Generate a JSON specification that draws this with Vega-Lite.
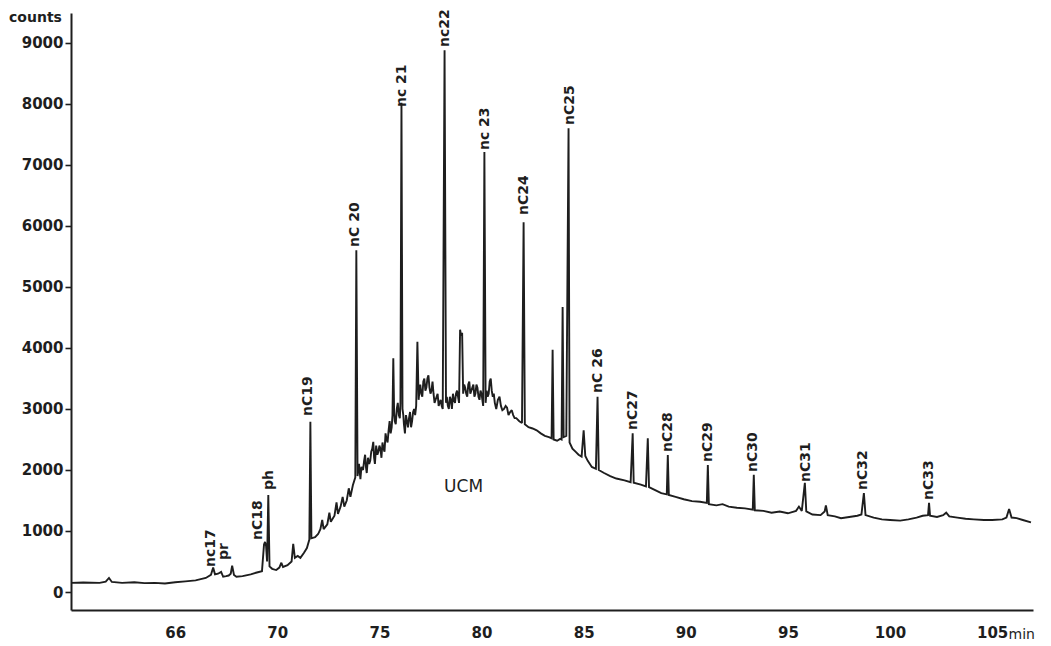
{
  "$schema": "https://vega.github.io/schema/vega-lite/v6.json",
  "width": 962,
  "height": 597,
  "autosize": {"type": "none"},
  "padding": {"left": 71, "top": 13, "right": 18, "bottom": 36},
  "background": "#ffffff",
  "config": {
    "view": {"stroke": null},
    "font": "DejaVu Sans"
  },
  "datasets": {
    "trace": [
      {"t": 59.9, "counts": 150}, {"t": 60.5, "counts": 155}, {"t": 61.3, "counts": 150}, {"t": 61.6, "counts": 170},
      {"t": 61.76, "counts": 230}, {"t": 61.9, "counts": 165}, {"t": 62.4, "counts": 150}, {"t": 63.0, "counts": 160},
      {"t": 63.5, "counts": 145}, {"t": 64.0, "counts": 150}, {"t": 64.5, "counts": 140}, {"t": 65.0, "counts": 160},
      {"t": 65.5, "counts": 175}, {"t": 66.0, "counts": 190}, {"t": 66.5, "counts": 230}, {"t": 66.75, "counts": 280},
      {"t": 66.86, "counts": 400}, {"t": 66.95, "counts": 290}, {"t": 67.1, "counts": 300}, {"t": 67.25, "counts": 330},
      {"t": 67.35, "counts": 250}, {"t": 67.5, "counts": 260}, {"t": 67.62, "counts": 270}, {"t": 67.72, "counts": 300},
      {"t": 67.79, "counts": 430}, {"t": 67.88, "counts": 280}, {"t": 68.0, "counts": 250}, {"t": 68.3, "counts": 260},
      {"t": 68.7, "counts": 290}, {"t": 69.0, "counts": 320}, {"t": 69.25, "counts": 340}, {"t": 69.35, "counts": 780},
      {"t": 69.4, "counts": 820}, {"t": 69.45, "counts": 760}, {"t": 69.5, "counts": 500}, {"t": 69.56, "counts": 1590},
      {"t": 69.62, "counts": 420}, {"t": 69.75, "counts": 380}, {"t": 69.95, "counts": 360}, {"t": 70.1, "counts": 400},
      {"t": 70.2, "counts": 480}, {"t": 70.28, "counts": 410}, {"t": 70.5, "counts": 440}, {"t": 70.7, "counts": 500},
      {"t": 70.78, "counts": 790}, {"t": 70.86, "counts": 560}, {"t": 71.0, "counts": 590}, {"t": 71.13, "counts": 560},
      {"t": 71.3, "counts": 640}, {"t": 71.45, "counts": 720}, {"t": 71.57, "counts": 860}, {"t": 71.62, "counts": 2790},
      {"t": 71.67, "counts": 880}, {"t": 71.85, "counts": 900}, {"t": 72.0, "counts": 950}, {"t": 72.11, "counts": 1030},
      {"t": 72.2, "counts": 1180}, {"t": 72.27, "counts": 1030}, {"t": 72.45, "counts": 1110}, {"t": 72.55, "counts": 1300},
      {"t": 72.62, "counts": 1150}, {"t": 72.8, "counts": 1250}, {"t": 72.9, "counts": 1470}, {"t": 72.97, "counts": 1280},
      {"t": 73.1, "counts": 1400}, {"t": 73.2, "counts": 1560}, {"t": 73.28, "counts": 1400}, {"t": 73.4, "counts": 1500},
      {"t": 73.5, "counts": 1700}, {"t": 73.58, "counts": 1560}, {"t": 73.7, "counts": 1750}, {"t": 73.82, "counts": 1880},
      {"t": 73.87, "counts": 5600}, {"t": 73.93, "counts": 1900}, {"t": 74.0, "counts": 2100}, {"t": 74.07, "counts": 1850},
      {"t": 74.12, "counts": 2050}, {"t": 74.2, "counts": 2000}, {"t": 74.25, "counts": 2150}, {"t": 74.3, "counts": 2250},
      {"t": 74.34, "counts": 2050}, {"t": 74.38, "counts": 1950}, {"t": 74.44, "counts": 2200}, {"t": 74.5, "counts": 2100},
      {"t": 74.55, "counts": 2150}, {"t": 74.6, "counts": 2300}, {"t": 74.65, "counts": 2350}, {"t": 74.7, "counts": 2460},
      {"t": 74.74, "counts": 2200}, {"t": 74.78, "counts": 2100}, {"t": 74.84, "counts": 2400}, {"t": 74.9, "counts": 2250},
      {"t": 74.95, "counts": 2300}, {"t": 75.0, "counts": 2400}, {"t": 75.05, "counts": 2350}, {"t": 75.1, "counts": 2200},
      {"t": 75.15, "counts": 2450}, {"t": 75.2, "counts": 2350}, {"t": 75.25, "counts": 2300}, {"t": 75.3, "counts": 2600},
      {"t": 75.35, "counts": 2500}, {"t": 75.4, "counts": 2450}, {"t": 75.45, "counts": 2650}, {"t": 75.5, "counts": 2800},
      {"t": 75.55, "counts": 2600}, {"t": 75.6, "counts": 2700}, {"t": 75.64, "counts": 2900}, {"t": 75.68, "counts": 3830},
      {"t": 75.72, "counts": 2950}, {"t": 75.75, "counts": 2800}, {"t": 75.8, "counts": 2750}, {"t": 75.85, "counts": 3000},
      {"t": 75.9, "counts": 3100}, {"t": 75.95, "counts": 2900}, {"t": 76.0, "counts": 2850}, {"t": 76.03, "counts": 3100},
      {"t": 76.08, "counts": 8020}, {"t": 76.13, "counts": 3000}, {"t": 76.17, "counts": 2900}, {"t": 76.2, "counts": 2750},
      {"t": 76.25, "counts": 2600}, {"t": 76.3, "counts": 2900}, {"t": 76.35, "counts": 2800}, {"t": 76.4, "counts": 2700},
      {"t": 76.45, "counts": 2850}, {"t": 76.5, "counts": 2950}, {"t": 76.55, "counts": 2700}, {"t": 76.6, "counts": 2800},
      {"t": 76.65, "counts": 2950}, {"t": 76.7, "counts": 3000}, {"t": 76.75, "counts": 2900}, {"t": 76.8, "counts": 3050},
      {"t": 76.86, "counts": 4100}, {"t": 76.92, "counts": 3150}, {"t": 76.96, "counts": 3300}, {"t": 77.0, "counts": 3400},
      {"t": 77.05, "counts": 3250}, {"t": 77.1, "counts": 3200}, {"t": 77.15, "counts": 3450}, {"t": 77.2, "counts": 3500},
      {"t": 77.25, "counts": 3300}, {"t": 77.3, "counts": 3350}, {"t": 77.35, "counts": 3500}, {"t": 77.4, "counts": 3550},
      {"t": 77.45, "counts": 3350}, {"t": 77.5, "counts": 3250}, {"t": 77.55, "counts": 3300}, {"t": 77.6, "counts": 3450},
      {"t": 77.65, "counts": 3250}, {"t": 77.7, "counts": 3100}, {"t": 77.75, "counts": 3150}, {"t": 77.8, "counts": 3200},
      {"t": 77.85, "counts": 3250}, {"t": 77.9, "counts": 3050}, {"t": 77.95, "counts": 3100}, {"t": 78.0, "counts": 3150},
      {"t": 78.05, "counts": 3050}, {"t": 78.1, "counts": 3000}, {"t": 78.19, "counts": 8880}, {"t": 78.26, "counts": 3100},
      {"t": 78.3, "counts": 3200}, {"t": 78.35, "counts": 3050}, {"t": 78.4, "counts": 3000}, {"t": 78.45, "counts": 3200},
      {"t": 78.5, "counts": 3150}, {"t": 78.55, "counts": 3000}, {"t": 78.6, "counts": 3250}, {"t": 78.65, "counts": 3150},
      {"t": 78.7, "counts": 3100}, {"t": 78.75, "counts": 3250}, {"t": 78.8, "counts": 3300}, {"t": 78.85, "counts": 3200},
      {"t": 78.9, "counts": 3100}, {"t": 78.95, "counts": 4300}, {"t": 79.0, "counts": 4200}, {"t": 79.05, "counts": 4250},
      {"t": 79.1, "counts": 3250}, {"t": 79.15, "counts": 3400}, {"t": 79.2, "counts": 3350}, {"t": 79.25, "counts": 3250},
      {"t": 79.3, "counts": 3200}, {"t": 79.35, "counts": 3400}, {"t": 79.4, "counts": 3450}, {"t": 79.45, "counts": 3250},
      {"t": 79.5, "counts": 3300}, {"t": 79.55, "counts": 3350}, {"t": 79.6, "counts": 3400}, {"t": 79.65, "counts": 3200},
      {"t": 79.7, "counts": 3250}, {"t": 79.75, "counts": 3400}, {"t": 79.8, "counts": 3350}, {"t": 79.85, "counts": 3200},
      {"t": 79.9, "counts": 3150}, {"t": 79.95, "counts": 3300}, {"t": 80.0, "counts": 3250}, {"t": 80.04, "counts": 3150},
      {"t": 80.08, "counts": 3050}, {"t": 80.14, "counts": 7210}, {"t": 80.2, "counts": 3100}, {"t": 80.25, "counts": 3300},
      {"t": 80.3, "counts": 3200}, {"t": 80.35, "counts": 3250}, {"t": 80.4, "counts": 3450}, {"t": 80.45, "counts": 3500},
      {"t": 80.5, "counts": 3300}, {"t": 80.55, "counts": 3200}, {"t": 80.6, "counts": 3250}, {"t": 80.65, "counts": 3100},
      {"t": 80.72, "counts": 3000}, {"t": 80.8, "counts": 3150}, {"t": 80.88, "counts": 3200}, {"t": 80.95, "counts": 3050},
      {"t": 81.02, "counts": 2980}, {"t": 81.1, "counts": 3000}, {"t": 81.18, "counts": 3050}, {"t": 81.25, "counts": 3020},
      {"t": 81.32, "counts": 2900}, {"t": 81.4, "counts": 2950}, {"t": 81.48, "counts": 2980}, {"t": 81.55, "counts": 2900},
      {"t": 81.62, "counts": 2850}, {"t": 81.7, "counts": 2850}, {"t": 81.85, "counts": 2800},
      {"t": 81.98, "counts": 2770}, {"t": 82.06, "counts": 6060}, {"t": 82.12, "counts": 2750}, {"t": 82.3, "counts": 2700},
      {"t": 82.5, "counts": 2680}, {"t": 82.7, "counts": 2650}, {"t": 82.9, "counts": 2600}, {"t": 83.1, "counts": 2560},
      {"t": 83.3, "counts": 2540}, {"t": 83.43, "counts": 2520}, {"t": 83.48, "counts": 3970}, {"t": 83.53, "counts": 2500},
      {"t": 83.7, "counts": 2480}, {"t": 83.85, "counts": 2510}, {"t": 83.92, "counts": 2500}, {"t": 83.97, "counts": 4670},
      {"t": 84.02, "counts": 2540}, {"t": 84.15, "counts": 2560}, {"t": 84.26, "counts": 7600}, {"t": 84.31, "counts": 2450},
      {"t": 84.45, "counts": 2350}, {"t": 84.6, "counts": 2300}, {"t": 84.75, "counts": 2250}, {"t": 84.9, "counts": 2220},
      {"t": 85.0, "counts": 2650}, {"t": 85.08, "counts": 2230}, {"t": 85.2, "counts": 2150}, {"t": 85.4, "counts": 2050},
      {"t": 85.6, "counts": 2020}, {"t": 85.68, "counts": 3200}, {"t": 85.74, "counts": 2000}, {"t": 86.0, "counts": 1950},
      {"t": 86.3, "counts": 1900}, {"t": 86.6, "counts": 1860}, {"t": 87.0, "counts": 1830}, {"t": 87.3, "counts": 1800},
      {"t": 87.4, "counts": 2600}, {"t": 87.45, "counts": 1790}, {"t": 87.8, "counts": 1760}, {"t": 88.05, "counts": 1730},
      {"t": 88.14, "counts": 2520}, {"t": 88.2, "counts": 1720}, {"t": 88.5, "counts": 1670}, {"t": 88.8, "counts": 1620},
      {"t": 89.07, "counts": 1600}, {"t": 89.12, "counts": 2245}, {"t": 89.17, "counts": 1590}, {"t": 89.5, "counts": 1560},
      {"t": 89.9, "counts": 1520}, {"t": 90.3, "counts": 1490}, {"t": 90.7, "counts": 1480}, {"t": 91.03, "counts": 1460},
      {"t": 91.08, "counts": 2080}, {"t": 91.13, "counts": 1440}, {"t": 91.5, "counts": 1420}, {"t": 91.8, "counts": 1440},
      {"t": 92.1, "counts": 1400}, {"t": 92.5, "counts": 1380}, {"t": 92.9, "counts": 1370}, {"t": 93.28, "counts": 1350},
      {"t": 93.33, "counts": 1920}, {"t": 93.38, "counts": 1340}, {"t": 93.8, "counts": 1330}, {"t": 94.2, "counts": 1300},
      {"t": 94.6, "counts": 1320}, {"t": 95.0, "counts": 1290}, {"t": 95.4, "counts": 1330}, {"t": 95.54, "counts": 1400},
      {"t": 95.68, "counts": 1330}, {"t": 95.83, "counts": 1790}, {"t": 95.9, "counts": 1320}, {"t": 96.2, "counts": 1270},
      {"t": 96.6, "counts": 1260}, {"t": 96.8, "counts": 1320}, {"t": 96.86, "counts": 1420}, {"t": 96.95, "counts": 1260},
      {"t": 97.3, "counts": 1240}, {"t": 97.6, "counts": 1210}, {"t": 98.0, "counts": 1230}, {"t": 98.4, "counts": 1250},
      {"t": 98.6, "counts": 1270}, {"t": 98.72, "counts": 1620}, {"t": 98.8, "counts": 1260}, {"t": 99.2, "counts": 1220},
      {"t": 99.6, "counts": 1190}, {"t": 100.0, "counts": 1180}, {"t": 100.5, "counts": 1170}, {"t": 100.9, "counts": 1190},
      {"t": 101.3, "counts": 1220}, {"t": 101.6, "counts": 1250}, {"t": 101.86, "counts": 1260}, {"t": 101.91, "counts": 1460},
      {"t": 101.96, "counts": 1250}, {"t": 102.3, "counts": 1230}, {"t": 102.6, "counts": 1260}, {"t": 102.75, "counts": 1300},
      {"t": 102.9, "counts": 1240}, {"t": 103.3, "counts": 1220}, {"t": 103.7, "counts": 1200}, {"t": 104.1, "counts": 1190},
      {"t": 104.6, "counts": 1180}, {"t": 105.0, "counts": 1180}, {"t": 105.5, "counts": 1190}, {"t": 105.7, "counts": 1220},
      {"t": 105.83, "counts": 1360}, {"t": 105.95, "counts": 1220}, {"t": 106.2, "counts": 1210}, {"t": 106.5, "counts": 1180},
      {"t": 106.9, "counts": 1140}
    ],
    "peaks": [
      {"name": "nc17", "t": 66.76, "counts": 410},
      {"name": "pr", "t": 67.4, "counts": 524},
      {"name": "nC18", "t": 69.07, "counts": 852},
      {"name": "ph", "t": 69.61, "counts": 1672},
      {"name": "nC19", "t": 71.52, "counts": 2885},
      {"name": "nC 20", "t": 73.82, "counts": 5655},
      {"name": "nc 21", "t": 76.13, "counts": 7949},
      {"name": "nc22", "t": 78.23, "counts": 8933},
      {"name": "nc 23", "t": 80.19, "counts": 7244},
      {"name": "nC24", "t": 82.06, "counts": 6179},
      {"name": "nC25", "t": 84.31, "counts": 7654},
      {"name": "nC 26", "t": 85.68, "counts": 3262},
      {"name": "nC27", "t": 87.4, "counts": 2655},
      {"name": "nC28", "t": 89.12, "counts": 2295},
      {"name": "nC29", "t": 91.08, "counts": 2131},
      {"name": "nC30", "t": 93.28, "counts": 1967},
      {"name": "nC31", "t": 95.88, "counts": 1803},
      {"name": "nC32", "t": 98.68, "counts": 1672},
      {"name": "nC33", "t": 101.91, "counts": 1508}
    ],
    "region": [
      {"name": "UCM", "t": 79.12, "counts": 1721}
    ]
  },
  "layer": [
    {
      "data": {"name": "trace"},
      "mark": {"type": "line", "color": "#1e1e1e", "strokeWidth": 1.9, "strokeJoin": "miter", "strokeMiterLimit": 2},
      "encoding": {
        "x": {
          "field": "t", "type": "quantitative",
          "scale": {"domain": [59.9, 107], "nice": false, "zero": false},
          "axis": {
            "title": "min",
            "titleFont": "DejaVu Sans", "titleFontSize": 14, "titleFontWeight": "normal", "titleColor": "#1e1e1e",
            "titleAnchor": "start", "titleAlign": "left", "titleBaseline": "middle", "titleX": 937, "titleY": 24,
            "values": [65, 70, 75, 80, 85, 90, 95, 100, 105],
            "labelExpr": "datum.value == 65 ? '66' : datum.label",
            "labelFont": "DejaVu Sans", "labelFontSize": 15, "labelFontWeight": "bold", "labelColor": "#1e1e1e",
            "labelPadding": 15, "ticks": false, "tickSize": 0,
            "domainColor": "#1e1e1e", "domainWidth": 2, "grid": false
          }
        },
        "y": {
          "field": "counts", "type": "quantitative",
          "scale": {"domain": [-295, 9490], "nice": false, "zero": false},
          "axis": {
            "title": "counts",
            "titleFont": "DejaVu Sans", "titleFontSize": 14, "titleFontWeight": "bold", "titleColor": "#1e1e1e",
            "titleAngle": 0, "titleAlign": "center", "titleBaseline": "middle", "titleX": -36, "titleY": 4,
            "values": [0, 1000, 2000, 3000, 4000, 5000, 6000, 7000, 8000, 9000],
            "format": "d",
            "labelFont": "DejaVu Sans", "labelFontSize": 15, "labelFontWeight": "bold", "labelColor": "#1e1e1e",
            "labelPadding": 2, "tickSize": 6, "tickColor": "#1e1e1e", "tickWidth": 1.6,
            "domainColor": "#1e1e1e", "domainWidth": 2, "grid": false
          }
        }
      }
    },
    {
      "data": {"name": "peaks"},
      "mark": {"type": "text", "angle": 270, "align": "left", "baseline": "middle", "font": "DejaVu Sans", "fontSize": 14, "fontWeight": "bold", "color": "#1e1e1e"},
      "encoding": {
        "x": {"field": "t", "type": "quantitative"},
        "y": {"field": "counts", "type": "quantitative"},
        "text": {"field": "name"}
      }
    },
    {
      "data": {"name": "region"},
      "mark": {"type": "text", "align": "center", "baseline": "middle", "font": "DejaVu Sans", "fontSize": 17, "color": "#1e1e1e"},
      "encoding": {
        "x": {"field": "t", "type": "quantitative"},
        "y": {"field": "counts", "type": "quantitative"},
        "text": {"field": "name"}
      }
    }
  ]
}
